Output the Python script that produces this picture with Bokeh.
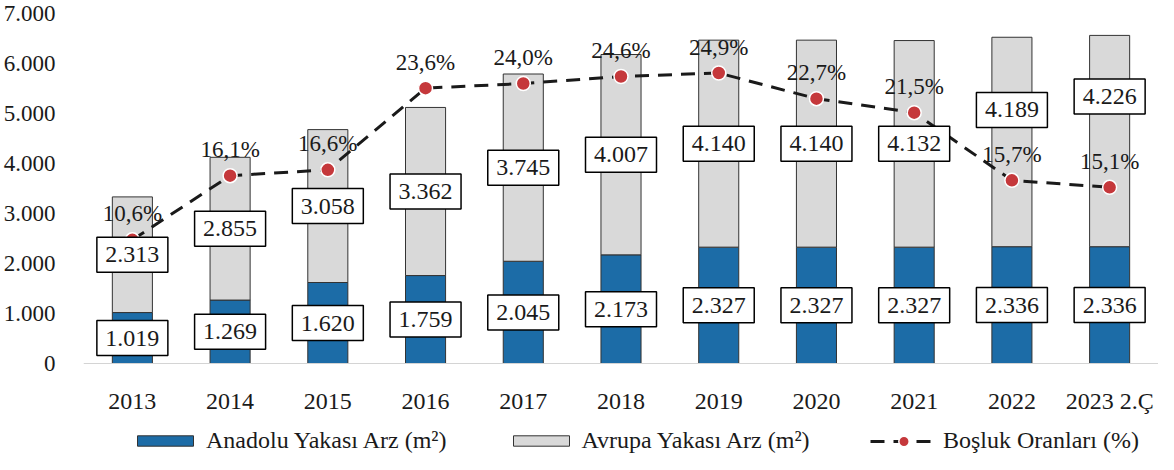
from bokeh.plotting import figure
from bokeh.models import (ColumnDataSource, FactorRange, Range1d, FixedTicker,
                          Legend, LegendItem)
from bokeh.embed import file_html
from bokeh.resources import INLINE
from bokeh.core.properties import value

# ---- data ----
years = ["2013", "2014", "2015", "2016", "2017", "2018", "2019", "2020", "2021", "2022", "2023 2.Ç"]
anadolu = [1019, 1269, 1620, 1759, 2045, 2173, 2327, 2327, 2327, 2336, 2336]
avrupa = [2313, 2855, 3058, 3362, 3745, 4007, 4140, 4140, 4132, 4189, 4226]
bosluk = [10.6, 16.1, 16.6, 23.6, 24.0, 24.6, 24.9, 22.7, 21.5, 15.7, 15.1]
y_ticks = [0, 1000, 2000, 3000, 4000, 5000, 6000, 7000]
y_tick_labels = ["0", "1.000", "2.000", "3.000", "4.000", "5.000", "6.000", "7.000"]
# manual upward nudges of the Avrupa value boxes (as in the original chart)
avrupa_label_nudge = [0, 0, 0, 0, 0, 0, 0, 0, 0, 640, 890]

FONT_NAME = "Liberation Serif"
FONT = value(FONT_NAME)
BLUE = "#1c6ca7"
GRAY = "#d9d9d9"
RED = "#c5383b"
TXT = "#1a1a1a"

# ---- layout geometry (pixels) ----
W, H = 1158, 454
TOP = 13          # frame top
ZERO_PX = 363     # screen y of value 0
Y_MAX = 7000
units_per_px = Y_MAX / (ZERO_PX - TOP)
y_min = -(H - ZERO_PX) * units_per_px
pct_max = 30
pct_min = y_min / Y_MAX * pct_max


def tr_int(v):
    return f"{v:,}".replace(",", ".")


def tr_pct(v):
    return f"{v:.1f}".replace(".", ",") + "%"


src = ColumnDataSource(dict(
    years=years,
    anadolu=anadolu,
    avrupa=avrupa,
    bosluk=bosluk,
    a_mid=[a / 2 for a in anadolu],
    e_mid=[a + e / 2 + n for a, e, n in zip(anadolu, avrupa, avrupa_label_nudge)],
    a_txt=[tr_int(v) for v in anadolu],
    e_txt=[tr_int(v) for v in avrupa],
    p_txt=[tr_pct(v) for v in bosluk],
))

p = figure(width=W, height=H, output_backend="svg", toolbar_location=None,
           x_range=FactorRange(factors=years, range_padding=0),
           y_range=Range1d(y_min, Y_MAX),
           min_border_left=76, min_border_right=0, min_border_top=TOP, min_border_bottom=0)
p.extra_y_ranges = {"pct": Range1d(pct_min, pct_max)}
p.outline_line_color = None
p.xgrid.visible = False
p.ygrid.visible = False
p.background_fill_color = "white"

bars = p.vbar_stack(["anadolu", "avrupa"], x="years", width=0.41, source=src,
                    fill_color=[BLUE, GRAY], line_color="#333333", line_width=1)

r_line = p.line(x="years", y="bosluk", y_range_name="pct", source=src,
                line_color=TXT, line_width=3, line_dash="14 9")
r_dots = p.scatter(x="years", y="bosluk", y_range_name="pct", source=src,
                   size=14, fill_color=RED, line_color="white", line_width=1.5)

# value boxes
for ycol, tcol in (("a_mid", "a_txt"), ("e_mid", "e_txt")):
    p.rect(x="years", y=ycol, width=71, height=35, width_units="screen",
           height_units="screen", source=src, fill_color="white",
           line_color="black", line_width=1.5)
    p.text(x="years", y=ycol, text=tcol, source=src, text_align="center",
           text_baseline="middle", text_font=FONT, text_font_size="24px",
           text_color=TXT)

# percentage labels
p.text(x="years", y="bosluk", y_range_name="pct", text="p_txt", source=src,
       y_offset=-26, text_align="center", text_baseline="middle",
       text_font=FONT, text_font_size="23px", text_color=TXT)

# axes
yax = p.yaxis[0]
yax.ticker = FixedTicker(ticks=y_ticks)
yax.major_label_overrides = {t: l for t, l in zip(y_ticks, y_tick_labels)}
yax.axis_line_color = None
yax.major_tick_line_color = None
yax.minor_tick_line_color = None
yax.major_label_standoff = 22
yax.major_label_text_font = FONT_NAME
yax.major_label_text_font_size = "23px"
yax.major_label_text_color = TXT

xax = p.xaxis[0]
xax.fixed_location = 0
xax.axis_line_color = "#d4d4d4"
xax.axis_line_width = 1
xax.major_tick_line_color = None
xax.minor_tick_line_color = None
xax.major_label_standoff = 18
xax.major_label_text_font = FONT_NAME
xax.major_label_text_font_size = "24px"
xax.major_label_text_color = TXT

common = dict(orientation="horizontal", padding=0, margin=0, label_standoff=6,
              border_line_color=None, background_fill_alpha=0,
              label_text_font=FONT_NAME, label_text_font_size="24px",
              label_text_color=TXT)
legend_bars = Legend(items=[
    LegendItem(label="Anadolu Yakası Arz (m²)", renderers=[bars[0]]),
    LegendItem(label="Avrupa Yakası Arz (m²)", renderers=[bars[1]]),
], location=(47, 0), glyph_width=70, glyph_height=13, spacing=59, **common)
legend_line = Legend(items=[
    LegendItem(label="Boşluk Oranları (%)", renderers=[r_line, r_dots]),
], location=(787, 0), glyph_width=67, glyph_height=26, **common)
p.add_layout(legend_bars)
p.add_layout(legend_line)

open("out.html", "w").write(file_html(p, INLINE))
